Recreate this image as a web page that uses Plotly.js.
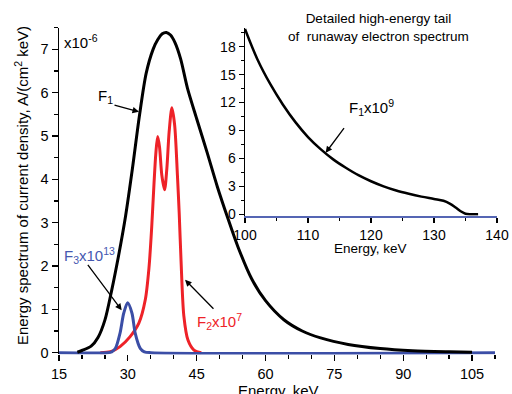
<!DOCTYPE html>
<html>
<head>
<meta charset="utf-8">
<script src="https://cdn.plot.ly/plotly-3.0.1.min.js"></script>
<style>
html,body{margin:0;padding:0;background:#fff;}
#chart{width:512px;height:394px;}
</style>
</head>
<body>
<div id="chart"></div>
<script>
// ---- Data ----
const f1Energy = [19, 20, 22, 23.5, 25, 26.5, 28, 29.5, 31, 32.5, 34, 35.5, 36.5, 37.5, 38.4, 39.3, 40.3, 41.5, 43, 45, 47.3, 49.5, 51.7, 54, 57, 60, 64, 68, 72, 78, 85, 92, 100, 105];
const f1Values = [0.01, 0.05, 0.15, 0.35, 0.75, 1.45, 2.25, 3.15, 4.25, 5.45, 6.45, 7.0, 7.22, 7.36, 7.39, 7.33, 7.15, 6.78, 6.1, 5.4, 4.61, 3.83, 3.13, 2.44, 1.7, 1.2, 0.76, 0.5, 0.34, 0.19, 0.095, 0.045, 0.02, 0.01];

const f2Energy = [24, 26.2, 28.3, 30.5, 32.4, 33.8, 34.6, 35.2, 35.7, 36.1, 36.5, 36.9, 37.4, 38.0, 38.5, 39.0, 39.6, 40.2, 40.8, 41.2, 41.6, 42.2, 43.1, 44.4, 46];
const f2Values = [0, 0.02, 0.14, 0.37, 0.68, 1.22, 1.95, 2.9, 3.9, 4.6, 4.99, 4.75, 4.1, 3.76, 4.25, 5.1, 5.65, 5.25, 4.1, 3.2, 2.1, 0.85, 0.29, 0.06, 0];

const f3Energy = [15, 25.5, 26.5, 27.3, 28.3, 29.1, 29.95, 30.9, 31.6, 32.7, 33.6, 35, 110];
const f3Values = [0, 0, 0.02, 0.1, 0.45, 0.91, 1.15, 0.91, 0.45, 0.1, 0.02, 0, 0];

const tailEnergy = [100, 102, 104, 106, 108, 110, 112, 114, 116, 118, 120, 122, 124, 126, 128, 130, 131.5, 132.5, 133.5, 134.3, 135, 135.8, 137];
const tailValues = [19.9, 16.6, 14.0, 11.8, 9.9, 8.3, 7.0, 5.9, 5.0, 4.2, 3.55, 3.0, 2.55, 2.2, 1.9, 1.65, 1.45, 1.15, 0.7, 0.3, 0.06, 0, 0];

const mainXTicks = [15, 30, 45, 60, 75, 90, 105];
const mainYTicks = [0, 1, 2, 3, 4, 5, 6, 7];
const insetXTicks = [100, 110, 120, 130, 140];
const insetYTicks = [0, 3, 6, 9, 12, 15, 18];

// ---- Styling ----
const FONT = 'Arial, "Liberation Sans", sans-serif';
const BLACK = '#000000';
const RED = '#ee2228';
const BLUE = '#3b4ea6';
const W = 512, H = 394;
const px = v => v / W;
const py = v => 1 - v / H;

const traces = [
  {x: f2Energy, y: f2Values, mode: 'lines', line: {color: RED, width: 3, shape: 'spline', smoothing: 0.8}, xaxis: 'x', yaxis: 'y', hoverinfo: 'skip'},
  {x: f3Energy, y: f3Values, mode: 'lines', line: {color: BLUE, width: 3, shape: 'spline', smoothing: 0.8}, xaxis: 'x', yaxis: 'y', hoverinfo: 'skip'},
  {x: f1Energy, y: f1Values, mode: 'lines', line: {color: BLACK, width: 3, shape: 'spline', smoothing: 0.8}, xaxis: 'x', yaxis: 'y', hoverinfo: 'skip'},
  {x: tailEnergy, y: tailValues, mode: 'lines', line: {color: BLACK, width: 2.5, shape: 'spline', smoothing: 1}, xaxis: 'x2', yaxis: 'y2', hoverinfo: 'skip'}
];

const axisCommon = {
  showgrid: false, zeroline: false, ticks: 'outside', tickcolor: BLACK, tickwidth: 1.3,
  tickmode: 'array', fixedrange: true
};

const layout = {
  width: W, height: H,
  margin: {l: 0, r: 0, t: 0, b: 0},
  paper_bgcolor: '#ffffff', plot_bgcolor: 'rgba(0,0,0,0)',
  showlegend: false,
  font: {family: FONT, color: BLACK},
  xaxis: Object.assign({}, axisCommon, {
    domain: [px(59), px(495)], range: [15, 110], anchor: 'y',
    tickvals: mainXTicks, ticktext: mainXTicks.map(String), ticklen: 6,
    showline: false,
    tickfont: {family: FONT, size: 14.5, color: BLACK},
    minor: {dtick: 5, tick0: 15, ticks: 'outside', ticklen: 3.5, tickwidth: 1.3, tickcolor: BLACK, showgrid: false}
  }),
  yaxis: Object.assign({}, axisCommon, {
    domain: [py(354.4), py(27.7)], range: [-0.04, 7.5], anchor: 'x',
    tickvals: mainYTicks, ticktext: mainYTicks.map(String), ticklen: 6,
    showline: true, linecolor: BLACK, linewidth: 1.5,
    tickfont: {family: FONT, size: 14.5, color: BLACK},
    minor: {dtick: 0.5, tick0: 0, ticks: 'outside', ticklen: 3.5, tickwidth: 1.3, tickcolor: BLACK, showgrid: false}
  }),
  xaxis2: Object.assign({}, axisCommon, {
    domain: [px(245), px(497)], range: [100, 140], anchor: 'y2',
    tickvals: insetXTicks, ticktext: insetXTicks.map(String), ticklen: 5,
    showline: true, linecolor: '#5566b4', linewidth: 2,
    tickfont: {family: FONT, size: 14, color: BLACK},
    minor: {dtick: 5, tick0: 100, ticks: 'outside', ticklen: 3, tickwidth: 1.2, tickcolor: BLACK, showgrid: false}
  }),
  yaxis2: Object.assign({}, axisCommon, {
    domain: [py(215.7), py(28.1)], range: [-0.15, 20], anchor: 'x2',
    tickvals: insetYTicks, ticktext: insetYTicks.map(String), ticklen: 5,
    showline: true, linecolor: BLACK, linewidth: 1.5,
    tickfont: {family: FONT, size: 14, color: BLACK},
    minor: {dtick: 1.5, tick0: 0, ticks: 'outside', ticklen: 3, tickwidth: 1.2, tickcolor: BLACK, showgrid: false}
  }),
  annotations: [
    // axis titles
    {xref: 'paper', yref: 'paper', x: px(21), y: py(186), textangle: -90, showarrow: false,
     text: 'Energy spectrum of current density, A/(cm<sup>2</sup> keV)', font: {size: 15, color: BLACK}, xanchor: 'center', yanchor: 'middle'},
    {xref: 'paper', yref: 'paper', x: px(278), y: py(390), showarrow: false,
     text: 'Energy, keV', font: {size: 15, color: BLACK}, xanchor: 'center', yanchor: 'middle'},
    {xref: 'paper', yref: 'paper', x: px(370), y: py(248), showarrow: false,
     text: 'Energy, keV', font: {size: 13.5, color: BLACK}, xanchor: 'center', yanchor: 'middle'},
    {xref: 'paper', yref: 'paper', x: px(378), y: py(27), showarrow: false,
     text: 'Detailed high-energy tail<br>of\u00a0 runaway electron spectrum', font: {size: 13.5, color: BLACK}, xanchor: 'center', yanchor: 'middle', align: 'center'},
    // multiplier
    {xref: 'paper', yref: 'paper', x: px(62), y: py(41), showarrow: false,
     text: 'x10<sup>-6</sup>', font: {size: 15, color: BLACK}, xanchor: 'left', yanchor: 'middle'},
    // curve labels
    {xref: 'paper', yref: 'paper', x: px(96), y: py(96), showarrow: false,
     text: 'F<sub>1</sub>', font: {size: 15, color: BLACK}, xanchor: 'left', yanchor: 'middle'},
    {xref: 'paper', yref: 'paper', x: px(62), y: py(256), showarrow: false,
     text: 'F<sub>3</sub>x10<sup>13</sup>', font: {size: 15, color: '#4658b0'}, xanchor: 'left', yanchor: 'middle'},
    {xref: 'paper', yref: 'paper', x: px(195), y: py(321), showarrow: false,
     text: 'F<sub>2</sub>x10<sup>7</sup>', font: {size: 15, color: RED}, xanchor: 'left', yanchor: 'middle'},
    {xref: 'paper', yref: 'paper', x: px(347), y: py(108), showarrow: false,
     text: 'F<sub>1</sub>x10<sup>9</sup>', font: {size: 15, color: BLACK}, xanchor: 'left', yanchor: 'middle'},
    // arrows
    {xref: 'x', yref: 'y', axref: 'x', ayref: 'y', x: 32.43, y: 5.56, ax: 26.77, ay: 5.72, text: '',
     showarrow: true, arrowhead: 2, arrowsize: 1, arrowwidth: 1.3, arrowcolor: BLACK},
    {xref: 'x', yref: 'y', axref: 'x', ayref: 'y', x: 28.66, y: 0.98, ax: 21.04, ay: 2.06, text: '',
     showarrow: true, arrowhead: 2, arrowsize: 1, arrowwidth: 1.3, arrowcolor: BLACK},
    {xref: 'x', yref: 'y', axref: 'x', ayref: 'y', x: 42.46, y: 1.68, ax: 48.98, ay: 0.98, text: '',
     showarrow: true, arrowhead: 2, arrowsize: 1, arrowwidth: 1.3, arrowcolor: BLACK},
    {xref: 'x2', yref: 'y2', axref: 'x2', ayref: 'y2', x: 112.8, y: 6.6, ax: 115.9, ay: 9.41, text: '',
     showarrow: true, arrowhead: 2, arrowsize: 1, arrowwidth: 1.3, arrowcolor: BLACK}
  ]
};

Plotly.newPlot('chart', traces, layout, {staticPlot: true, displayModeBar: false});
</script>
</body>
</html>
